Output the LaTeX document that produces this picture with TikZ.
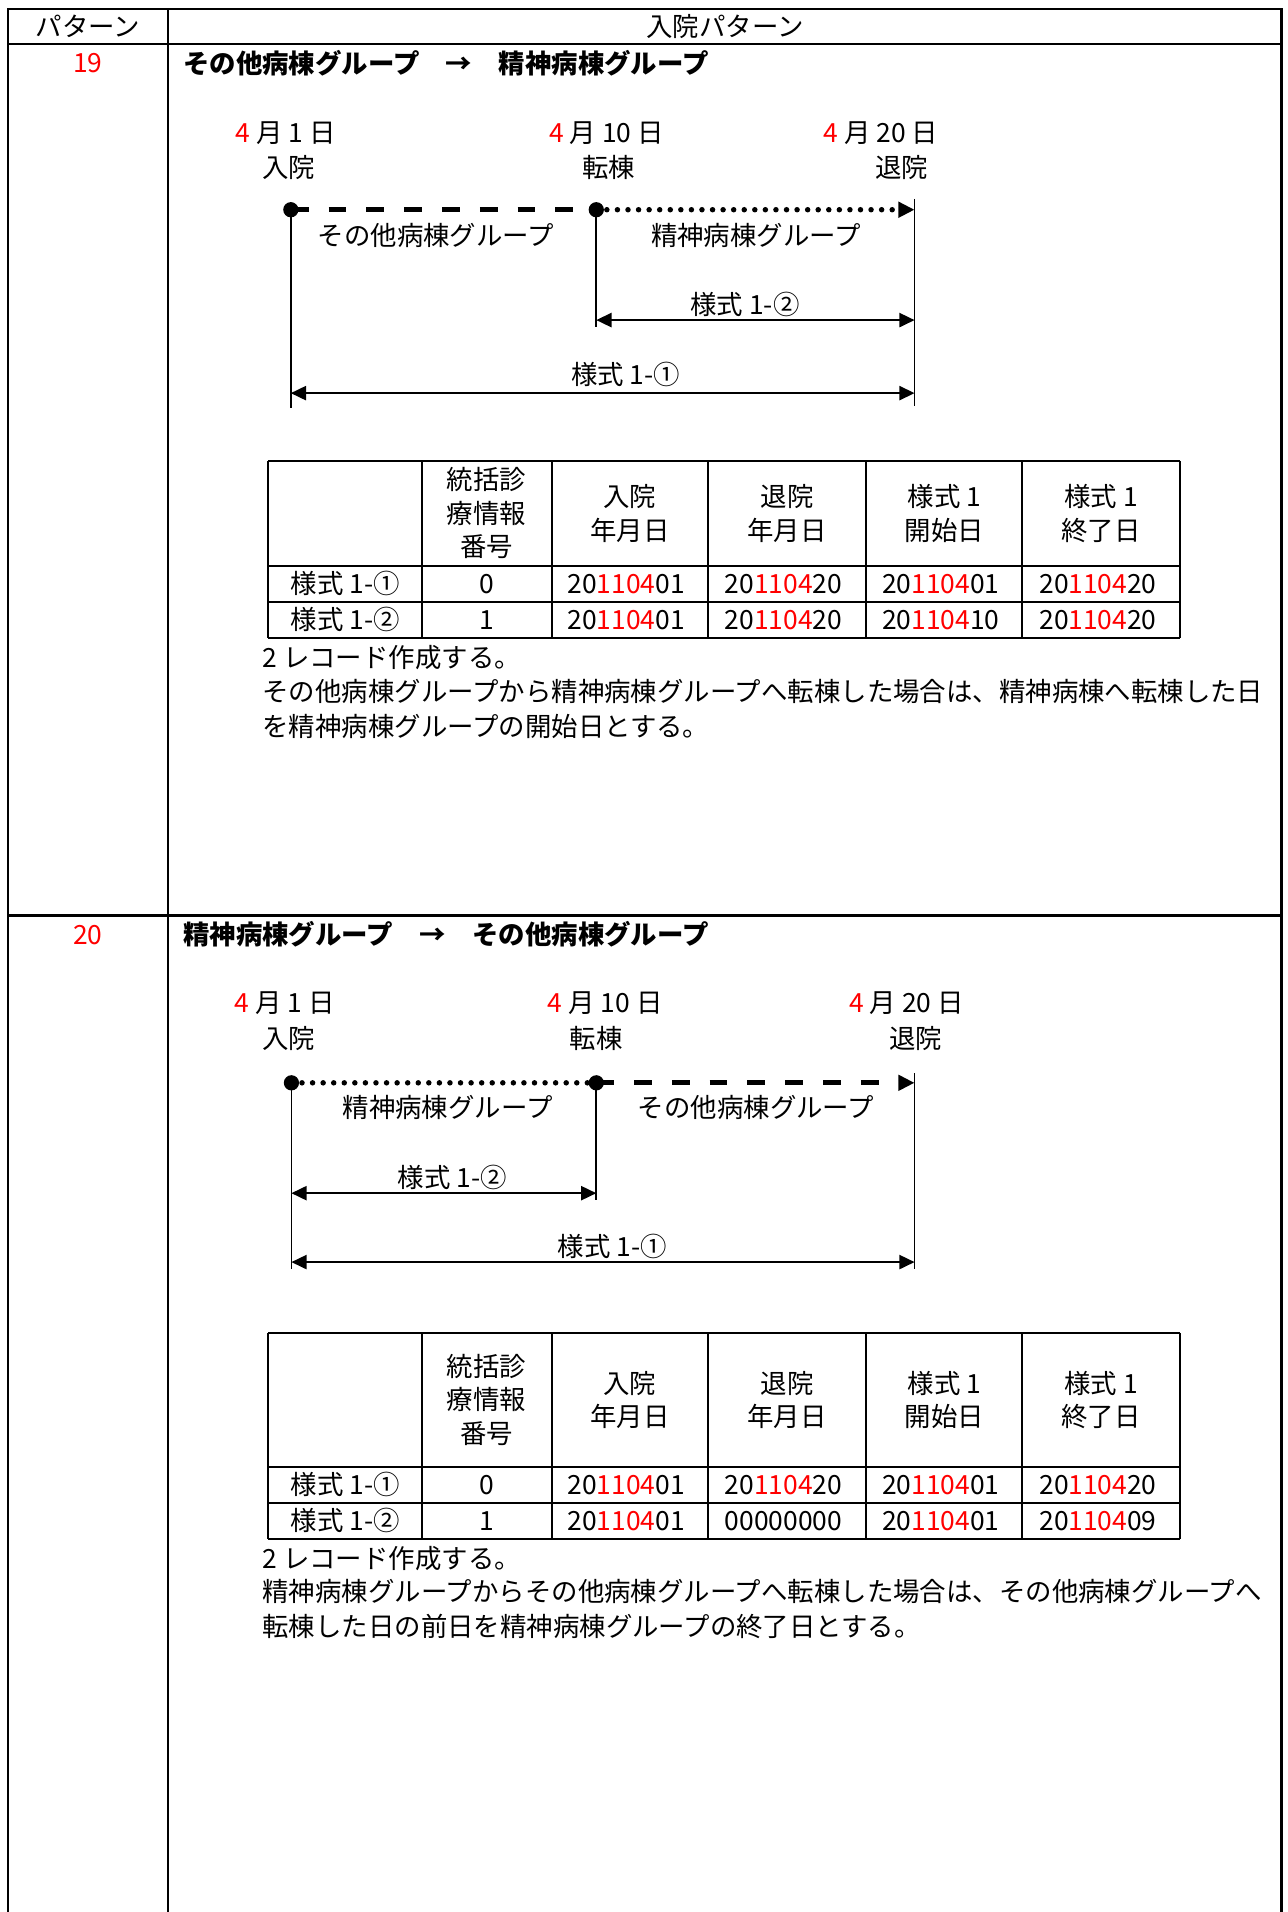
\documentclass[tikz,border=0pt]{standalone}
\usepackage{fontspec}
\setmainfont{Noto Sans CJK JP}
\usetikzlibrary{arrows.meta, positioning}
\definecolor{datered}{HTML}{FF0000}
\newcommand{\rd}[1]{\textcolor{datered}{#1}}
\newcommand{\ymd}[3]{#1\rd{#2}#3}

\begin{document}
\begin{tikzpicture}[
    x=0.6pt, y=-0.6pt,
    every node/.style={font=\fontsize{13}{16.5}\selectfont, inner sep=0pt},
    cell/.style={align=center},
    datecell/.style={anchor=west},
    title/.style={anchor=west, font=\fontsize{13}{16.5}\selectfont\bfseries},
    para/.style={anchor=west},
    frame/.style={line width=1.2pt},
    grid/.style={line width=1pt},
    tick/.style={line width=0.8pt},
    dot/.style={circle, fill, minimum size=7.5pt},
    dashseg/.style={line width=2.3pt, dash pattern=on 8.7pt off 9.9pt},
    dotseg/.style={line width=2.7pt, line cap=round, dash pattern=on 0pt off 5.2pt},
    tip/.style={-{Triangle[length=8pt, width=7.5pt]}},
    span/.style={line width=0.9pt, {Triangle[length=7.5pt, width=7pt]}-{Triangle[length=7.5pt, width=7pt]}}
]
\useasboundingbox (0,0) rectangle (1056,1568);

% outer frame
\draw[frame] (6.6,1568) -- (6.6,7.4) -- (1051,7.4) -- (1051,1568);
\draw[frame] (138,7.4) -- (138,1568);
\draw[frame] (6.6,36) -- (1051,36);
\draw[frame] (6.6,750.7) -- (1051,750.7);
\node (hpat) at (72,21.5) {パターン};
\node (hin) at (594.5,21.5) {入院パターン};

% ---- pattern 19
\node[text=datered] (no19) at (72,52) {19};
\node[title] (t19) at (150,52) {その他病棟グループ　→　精神病棟グループ};

\node[anchor=west] (s19date1) at (193,109) {\rd{4} 月 1 日};
\node[anchor=west] (s19date2) at (450,109) {\rd{4} 月 10 日};
\node[anchor=west] (s19date3) at (675,109) {\rd{4} 月 20 日};
\node (s19ev1) at (237,137) {入院};
\node (s19ev2) at (499,137) {転棟};
\node (s19ev3) at (739.5,137) {退院};

\node[dot] (s19d1) at (238.5,172) {};
\node[dot] (s19d2) at (489,172) {};
\coordinate (s19e) at (750,172);
\draw[dashseg] (s19d1.center) -- (s19d2.center);
\draw[dotseg, tip] (s19d2.center) -- (s19e);
\node (s19g1) at (357.5,193) {その他病棟グループ};
\node (s19g2) at (620,193) {精神病棟グループ};

\coordinate (s19t1) at (238.5,334.5);
\coordinate (s19t2) at (489,268);
\coordinate (s19t3a) at (750,163);
\coordinate (s19t3b) at (750,333);
\draw[tick] (s19d1.center) -- (s19t1);
\draw[tick] (s19d2.center) -- (s19t2);
\draw[tick] (s19t3a) -- (s19t3b);

\coordinate (s19b1) at (489,262.5);
\coordinate (s19b2) at (750,262.5);
\draw[span] (s19b1) -- (s19b2);
\node (s19l2) at (611,250) {様式 1-②};
\coordinate (s19a1) at (238.5,322.4);
\coordinate (s19a2) at (750,322.4);
\draw[span] (s19a1) -- (s19a2);
\node (s19l1) at (513,307.5) {様式 1-①};

% table 19
\foreach \x in {220,346,452.5,581,710,838.5,967.5} \draw[grid] (\x,378) -- (\x,523);
\foreach \y in {378,464,493.5,523} \draw[grid] (220,\y) -- (967.5,\y);
\node[cell] (s19h1) at (399,421) {統括診\\療情報\\番号};
\node[cell] (s19h2) at (516.5,421) {入院\\年月日};
\node[cell] (s19h3) at (645.5,421) {退院\\年月日};
\node[cell] (s19h4) at (774.5,421) {様式 1\\開始日};
\node[cell] (s19h5) at (903,421) {様式 1\\終了日};
\foreach \ry/\lbl/\num/\ca/\cb/\cc/\cd [count=\r] in {
    478.75/①/0/{\ymd{20}{1104}{01}}/{\ymd{20}{1104}{20}}/{\ymd{20}{1104}{01}}/{\ymd{20}{1104}{20}},
    508.25/②/1/{\ymd{20}{1104}{01}}/{\ymd{20}{1104}{20}}/{\ymd{20}{1104}{10}}/{\ymd{20}{1104}{20}}} {
  \node (s19c\r-1) at (283,\ry) {様式 1-\lbl};
  \node (s19c\r-2) at (399,\ry) {\num};
  \node[datecell] (s19c\r-3) at (465,\ry) {\ca};
  \node[datecell] (s19c\r-4) at (594,\ry) {\cb};
  \node[datecell] (s19c\r-5) at (723,\ry) {\cc};
  \node[datecell] (s19c\r-6) at (852,\ry) {\cd};
}
\node[para] (s19n1) at (215,539) {2 レコード作成する。};
\node[para] (s19n2) at (215,567) {その他病棟グループから精神病棟グループへ転棟した場合は、精神病棟へ転棟した日};
\node[para] (s19n3) at (215,596) {を精神病棟グループの開始日とする。};

% ---- pattern 20
\node[text=datered] (no20) at (72,767) {20};
\node[title] (t20) at (150,766) {精神病棟グループ　→　その他病棟グループ};

\node[anchor=west] (s20date1) at (192,823) {\rd{4} 月 1 日};
\node[anchor=west] (s20date2) at (449,823) {\rd{4} 月 10 日};
\node[anchor=west] (s20date3) at (696,823) {\rd{4} 月 20 日};
\node (s20ev1) at (237,851.5) {入院};
\node (s20ev2) at (489,851.5) {転棟};
\node (s20ev3) at (751,851.5) {退院};

\node[dot] (s20d1) at (239,888) {};
\node[dot] (s20d2) at (489,888) {};
\coordinate (s20e) at (750,888);
\draw[dotseg] (s20d1.center) -- (s20d2.center);
\draw[dashseg, tip] (s20d2.center) -- (s20e);
\node (s20g1) at (367,908.5) {精神病棟グループ};
\node (s20g2) at (620,908.5) {その他病棟グループ};

\coordinate (s20t1) at (239,1041);
\coordinate (s20t2) at (489,984);
\coordinate (s20t3a) at (750,880);
\coordinate (s20t3b) at (750,1041);
\draw[tick] (s20d1.center) -- (s20t1);
\draw[tick] (s20d2.center) -- (s20t2);
\draw[tick] (s20t3a) -- (s20t3b);

\coordinate (s20b1) at (239,978.5);
\coordinate (s20b2) at (489,978.5);
\draw[span] (s20b1) -- (s20b2);
\node (s20l2) at (371,965.5) {様式 1-②};
\coordinate (s20a1) at (239,1035);
\coordinate (s20a2) at (750,1035);
\draw[span] (s20a1) -- (s20a2);
\node (s20l1) at (502,1022) {様式 1-①};

% table 20
\foreach \x in {220,346,452.5,581,710,838.5,967.5} \draw[grid] (\x,1093) -- (\x,1262);
\foreach \y in {1093,1203,1232.5,1262} \draw[grid] (220,\y) -- (967.5,\y);
\node[cell] (s20h1) at (399,1148) {統括診\\療情報\\番号};
\node[cell] (s20h2) at (516.5,1148) {入院\\年月日};
\node[cell] (s20h3) at (645.5,1148) {退院\\年月日};
\node[cell] (s20h4) at (774.5,1148) {様式 1\\開始日};
\node[cell] (s20h5) at (903,1148) {様式 1\\終了日};
\foreach \ry/\lbl/\num/\ca/\cb/\cc/\cd [count=\r] in {
    1217.75/①/0/{\ymd{20}{1104}{01}}/{\ymd{20}{1104}{20}}/{\ymd{20}{1104}{01}}/{\ymd{20}{1104}{20}},
    1247.25/②/1/{\ymd{20}{1104}{01}}/{00000000}/{\ymd{20}{1104}{01}}/{\ymd{20}{1104}{09}}} {
  \node (s20c\r-1) at (283,\ry) {様式 1-\lbl};
  \node (s20c\r-2) at (399,\ry) {\num};
  \node[datecell] (s20c\r-3) at (465,\ry) {\ca};
  \node[datecell] (s20c\r-4) at (594,\ry) {\cb};
  \node[datecell] (s20c\r-5) at (723,\ry) {\cc};
  \node[datecell] (s20c\r-6) at (852,\ry) {\cd};
}
\node[para] (s20n1) at (215,1278) {2 レコード作成する。};
\node[para] (s20n2) at (215,1305) {精神病棟グループからその他病棟グループへ転棟した場合は、その他病棟グループへ};
\node[para] (s20n3) at (215,1334) {転棟した日の前日を精神病棟グループの終了日とする。};
\end{tikzpicture}
\end{document}
